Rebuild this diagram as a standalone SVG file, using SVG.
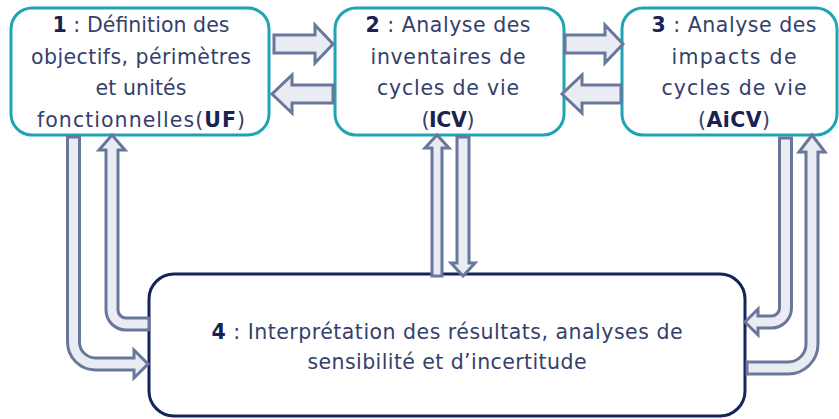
<svg xmlns="http://www.w3.org/2000/svg" width="839" height="419" viewBox="0 0 839 419">
<style>
.box{fill:#ffffff;stroke:#1fa3b6;stroke-width:3}
.box4{fill:#ffffff;stroke:#15245a;stroke-width:3}
.t{font-family:"DejaVu Sans","Liberation Sans",sans-serif;font-size:20.5px;fill:#35406b;text-anchor:middle}
.b{font-weight:bold;fill:#1a2350}
.arr{fill:#eaecf3;stroke:#69779a;stroke-width:3;stroke-linejoin:miter}
</style>
<rect width="839" height="419" fill="#ffffff"/>
<g id="node1">
<rect class="box" x="11" y="8" width="258" height="127" rx="21"/>
<text class="t" x="141" y="32" textLength="177"><tspan class="b">1</tspan> : Définition des</text>
<text class="t" x="141" y="63.5" textLength="220">objectifs, périmètres</text>
<text class="t" x="141" y="95" textLength="91">et unités</text>
<text class="t" x="141" y="127" textLength="208">fonctionnelles(<tspan class="b">UF</tspan>)</text>
</g>
<g id="node2">
<rect class="box" x="335" y="8" width="229" height="127" rx="21"/>
<text class="t" x="448" y="32" textLength="165"><tspan class="b">2</tspan> : Analyse des</text>
<text class="t" x="448" y="63.5" textLength="155">inventaires de</text>
<text class="t" x="448" y="95" textLength="142">cycles de vie</text>
<text class="t" x="448" y="127" textLength="53">(<tspan class="b">ICV</tspan>)</text>
</g>
<g id="node3">
<rect class="box" x="622" y="8" width="215" height="127" rx="21"/>
<text class="t" x="734" y="32" textLength="165"><tspan class="b">3</tspan> : Analyse des</text>
<text class="t" x="734" y="63.5" textLength="125">impacts de</text>
<text class="t" x="734" y="95" textLength="145">cycles de vie</text>
<text class="t" x="734" y="127" textLength="72">(<tspan class="b">AiCV</tspan>)</text>
</g>
<g id="node4">
<rect class="box4" x="149" y="274" width="596" height="142" rx="25"/>
<text class="t" x="447" y="339" textLength="471"><tspan class="b">4</tspan> : Interprétation des résultats, analyses de</text>
<text class="t" x="447" y="369" textLength="279">sensibilité et d’incertitude</text>
</g>
<g id="connectors">
<path class="arr" d="M274,35 H315 V25 L333,44 L315,63 V53 H274 Z"/>
<path class="arr" d="M333,85 H292 V75 L272,94 L292,113 V103 H333 Z"/>
<path class="arr" d="M565,35 H605 V25 L623,44 L605,63 V53 H565 Z"/>
<path class="arr" d="M621,85 H582 V75 L562,94 L582,113 V103 H621 Z"/>
<path class="arr" d="M432,276 V148 H425 L437,135 L449,148 H442 V276 Z"/>
<path class="arr" d="M457,137 H469 V263 H475 L463,276 L451,263 H457 Z"/>
<path class="arr" d="M67.5,137 H79.5 V342 A16,16 0 0 0 95.5,358 H134 V350 L148,364 L134,378 V370 H95.5 A28,28 0 0 1 67.5,342 Z"/>
<path class="arr" d="M149,318 H126 A8,8 0 0 1 118,310 V150 H125 L112,135 L99,150 H106 V310 A20,20 0 0 0 126,330 H149 Z"/>
<path class="arr" d="M779.5,138 H791.5 V308 A20,20 0 0 1 771.5,328 H758 V335 L745,322 L758,309 V316 H771.5 A8,8 0 0 0 779.5,308 Z"/>
<path class="arr" d="M747,362 H788 A18,18 0 0 0 806,344 V152 H799 L812,135 L825,152 H818 V344 A30,30 0 0 1 788,374 H747 Z"/>
</g>
</svg>
